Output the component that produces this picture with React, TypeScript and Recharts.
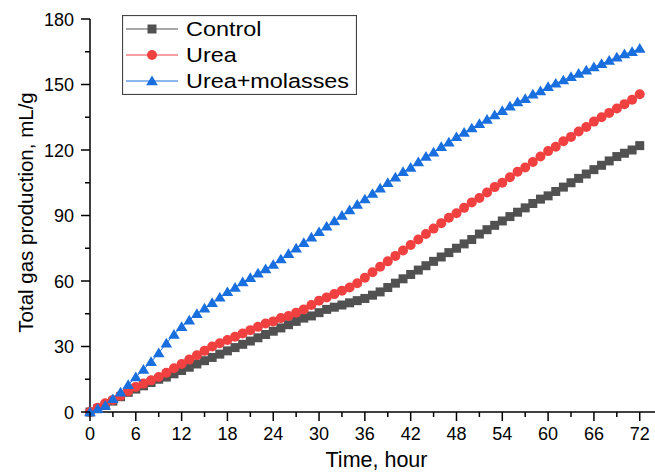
import React from 'react';
import { LineChart, Line, XAxis, YAxis, Legend } from 'recharts';

const HOURS = [0, 1, 2, 3, 4, 5, 6, 7, 8, 9, 10, 11, 12, 13, 14, 15, 16, 17, 18, 19, 20, 21, 22, 23, 24, 25, 26, 27, 28, 29, 30, 31, 32, 33, 34, 35, 36, 37, 38, 39, 40, 41, 42, 43, 44, 45, 46, 47, 48, 49, 50, 51, 52, 53, 54, 55, 56, 57, 58, 59, 60, 61, 62, 63, 64, 65, 66, 67, 68, 69, 70, 71, 72];

const CONTROL = [0, 1.5, 3, 5, 7, 9, 10.5, 12, 13.5, 15, 16, 17.5, 19, 20.5, 22, 23.5, 25, 26.5, 28, 29.5, 31, 32.5, 34, 35.5, 37, 38.5, 40, 41.5, 43, 44, 45.5, 47, 48, 49, 50, 51, 52, 53.5, 55, 57, 59, 61, 63, 65, 67, 69, 71, 73, 75, 77, 79, 81.5, 83.5, 85.5, 87.5, 89.5, 91.5, 93.5, 95.5, 97.5, 99, 101, 103, 105, 107, 109, 111, 113, 115, 117, 118.5, 120, 122];

const UREA = [0, 2, 4, 5.5, 7.5, 9.5, 11.5, 13, 14.5, 16, 18, 20, 22, 24, 26, 28, 30, 31.5, 33, 34.5, 36, 37.5, 39, 40.5, 41.5, 43, 44, 45.5, 47, 49, 51, 52.5, 54, 55.5, 57, 59, 61.5, 64, 66.5, 69, 71.5, 74, 76.5, 79, 81.5, 84, 86.5, 89, 91, 93.5, 96, 98, 100.5, 103, 105, 107.5, 110, 112, 114.5, 117, 119.5, 121.5, 124, 126, 128.5, 130.5, 133, 135, 137, 139, 141, 143, 145.5];

const UREA_MOLASSES = [0, 1.5, 3, 6, 9, 12.5, 16, 19.5, 23, 27, 31.5, 35.5, 39, 42, 45, 47.5, 50, 52.5, 55, 57, 59.5, 61.5, 63.5, 65.5, 67.5, 70, 72.5, 75, 77.5, 80, 82.5, 85, 87.5, 90, 92.5, 95, 97.5, 100, 102.5, 105, 107.5, 110, 112, 114.5, 117, 119, 121.5, 123.5, 126, 128, 130, 132, 134, 136, 138, 140, 142, 143.5, 145.5, 147, 149, 150.5, 152, 153.5, 155, 156.5, 158, 159.5, 161, 162.5, 164, 165, 166.5];

const X_TICKS = [0, 3, 6, 9, 12, 15, 18, 21, 24, 27, 30, 33, 36, 39, 42, 45, 48, 51, 54, 57, 60, 63, 66, 69, 72];
const X_MAJOR = [0, 6, 12, 18, 24, 30, 36, 42, 48, 54, 60, 66, 72];
const Y_TICKS = [0, 15, 30, 45, 60, 75, 90, 105, 120, 135, 150, 165, 180];
const Y_MAJOR = [0, 30, 60, 90, 120, 150, 180];

const SERIES_NAMES = ['Control', 'Urea', 'Urea+molasses'];
const COLORS = ['#515151', '#F14040', '#1A6FDF'];

const FONT = '"Liberation Sans", Arial, sans-serif';

const data = HOURS.map((h, i) => ({
  hour: h,
  control: CONTROL[i],
  urea: UREA[i],
  ureaMolasses: UREA_MOLASSES[i],
}));

const Square = ({ cx, cy, fill }: any) => (
  <rect x={cx - 4.5} y={cy - 4.5} width={9} height={9} fill={fill} />
);
const Circle = ({ cx, cy, fill }: any) => <circle cx={cx} cy={cy} r={5} fill={fill} />;
const Triangle = ({ cx, cy, fill }: any) => (
  <polygon
    points={`${cx},${cy - 5.5} ${cx + 5.8},${cy + 4.2} ${cx - 5.8},${cy + 4.2}`}
    fill={fill}
  />
);
const MARKERS = [Square, Circle, Triangle];

const makeDot = (idx: number) => (props: any) => {
  const M = MARKERS[idx];
  if (props.cx == null || props.cy == null) return <g key={props.index} />;
  return (
    <g key={`d-${idx}-${props.index}`}>
      <M cx={props.cx} cy={props.cy} fill={COLORS[idx]} />
    </g>
  );
};

const XTick = (props: any) => {
  const { x, y, payload } = props;
  const v = payload.value;
  const major = X_MAJOR.includes(v);
  return (
    <g>
      <line x1={x} x2={x} y1={y} y2={y + (major ? 9 : 5)} stroke="#000" strokeWidth={1.5} />
      {major && (
        <text x={x} y={y + 28} textAnchor="middle" fontSize={18} fontFamily={FONT} fill="#000">
          {v}
        </text>
      )}
    </g>
  );
};

const YTick = (props: any) => {
  const { x, y, payload } = props;
  const v = payload.value;
  const major = Y_MAJOR.includes(v);
  return (
    <g>
      <line x1={x} x2={x - (major ? 9 : 5)} y1={y} y2={y} stroke="#000" strokeWidth={1.5} />
      {major && (
        <text x={x - 16} y={y + 6.5} textAnchor="end" fontSize={18} fontFamily={FONT} fill="#000">
          {v}
        </text>
      )}
    </g>
  );
};

const YTitle = (props: any) => {
  const vb = props.viewBox;
  const cx = vb.x + 25;
  const cy = vb.y + vb.height / 2 - 3;
  return (
    <text
      x={cx}
      y={cy}
      transform={`rotate(-90, ${cx}, ${cy})`}
      textAnchor="middle"
      dominantBaseline="central"
      fontSize={20.5}
      fontFamily={FONT}
      fill="#000"
    >
      Total gas production, mL/g
    </text>
  );
};

const XTitle = (props: any) => {
  const vb = props.viewBox;
  return (
    <text
      x={vb.x + vb.width / 2 + 4}
      y={vb.y + 55}
      textAnchor="middle"
      fontSize={21.5}
      fontFamily={FONT}
      fill="#000"
    >
      Time, hour
    </text>
  );
};

const LegendBox = () => (
  <svg width={235} height={80} style={{ display: 'block' }}>
    <rect x={0.5} y={0.5} width={234} height={79} fill="#fff" stroke="#444" strokeWidth={1.2} />
    {SERIES_NAMES.map((name, i) => {
      const cy = 14 + i * 26;
      const M = MARKERS[i];
      return (
        <g key={name}>
          <line x1={4} x2={56} y1={cy} y2={cy} stroke={COLORS[i]} strokeWidth={1} />
          <M cx={30} cy={cy} fill={COLORS[i]} />
          <text
            transform={`translate(64, ${cy + 7}) scale(1.2, 1)`}
            fontSize={19.5}
            fontFamily={FONT}
            fill="#000"
          >
            {name}
          </text>
        </g>
      );
    })}
  </svg>
);

export default function App() {
  return (
    <div style={{ position: 'absolute', left: 0, top: 0, background: '#fff' }}>
      <LineChart
        width={655}
        height={473}
        data={data}
        margin={{ top: 19, right: 0, bottom: 20, left: 0 }}
      >
        <XAxis
          dataKey="hour"
          type="number"
          domain={[0, 74]}
          ticks={X_TICKS}
          interval={0}
          tickSize={0}
          tickMargin={0}
          tickLine={false}
          axisLine={{ stroke: '#000', strokeWidth: 1.5 }}
          tick={<XTick />}
          height={41}
          label={{ content: XTitle }}
        />
        <YAxis
          type="number"
          domain={[0, 180]}
          ticks={Y_TICKS}
          interval={0}
          tickSize={0}
          tickMargin={0}
          tickLine={false}
          axisLine={{ stroke: '#000', strokeWidth: 1.5 }}
          tick={<YTick />}
          width={90}
          label={{ content: YTitle }}
        />
        <Legend
          layout="vertical"
          align="center"
          verticalAlign="middle"
          wrapperStyle={{ position: 'absolute', left: 122, top: 15, width: 235, height: 80 }}
          content={() => <LegendBox />}
        />
        <Line
          type="linear"
          dataKey="control"
          name={SERIES_NAMES[0]}
          stroke={COLORS[0]}
          strokeWidth={1}
          dot={makeDot(0)}
          activeDot={false}
          isAnimationActive={false}
        />
        <Line
          type="linear"
          dataKey="urea"
          name={SERIES_NAMES[1]}
          stroke={COLORS[1]}
          strokeWidth={1}
          dot={makeDot(1)}
          activeDot={false}
          isAnimationActive={false}
        />
        <Line
          type="linear"
          dataKey="ureaMolasses"
          name={SERIES_NAMES[2]}
          stroke={COLORS[2]}
          strokeWidth={1}
          dot={makeDot(2)}
          activeDot={false}
          isAnimationActive={false}
        />
      </LineChart>
    </div>
  );
}
